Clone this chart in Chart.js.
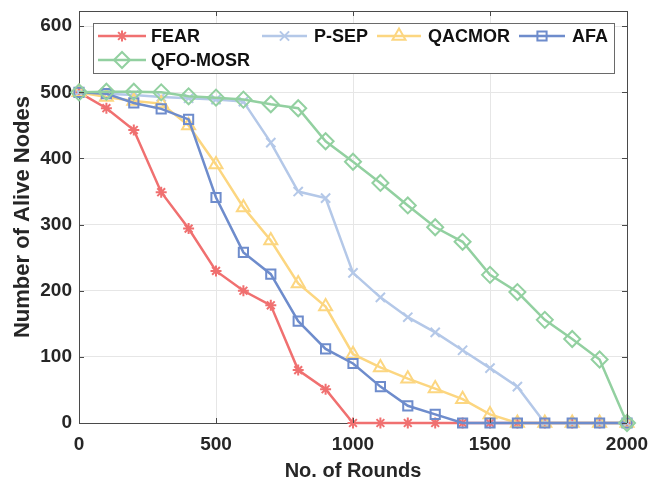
<!DOCTYPE html>
<html>
<head>
<style>
  body { margin: 0; background: #fff; }
</style>
</head>
<body>
<canvas id="myChart" width="651" height="483"></canvas>

<script src="https://cdn.jsdelivr.net/npm/chart.js"></script>
<script>
// x values (rounds) and series
const rounds = [0, 100, 200, 300, 400, 500, 600, 700, 800, 900, 1000, 1100, 1200, 1300, 1400, 1500, 1600, 1700, 1800, 1900, 2000];
const fear   = [500, 476, 443, 349, 294, 230, 200, 178, 80, 51, 0, 0, 0, 0, 0, 0, 0, 0, 0, 0, 0];
const psep   = [500, 498, 496, 493, 491, 489, 486, 424, 350, 340, 227, 190, 160, 137, 110, 83, 55, 0, 0, 0, 0];
const qacmor = [500, 493, 487, 483, 450, 391, 326, 276, 211, 176, 104, 84, 67, 52, 36, 13, 0, 0, 0, 0, 0];
const afa    = [500, 498, 484, 475, 459, 341, 258, 225, 154, 112, 90, 55, 26, 13, 0, 0, 0, 0, 0, 0, 0];
const qfo    = [500, 501, 501, 500, 494, 492, 489, 482, 476, 426, 395, 363, 329, 296, 274, 224, 198, 156, 127, 96, 0];

const seriesNames = ['FEAR', 'P-SEP', 'QACMOR', 'AFA', 'QFO-MOSR'];
const xTicks = [0, 500, 1000, 1500, 2000];
const yTicks = [0, 100, 200, 300, 400, 500, 600];

const colors = ['#F07070', '#B4C8E8', '#FCD680', '#6E8CCC', '#92D0A0'];
const styles = ['star', 'crossRot', 'triangle', 'rect', 'rectRot'];
const radii  = [5.5, 6.5, 7.5, 6.5, 8];
const allData = [fear, psep, qacmor, afa, qfo];

const txtColor = '#262626';
const tickFont = { family: "'Liberation Sans', Arial, sans-serif", size: 19, weight: 'bold' };
const titleFont = { family: "'Liberation Sans', Arial, sans-serif", size: 20, weight: 'bold' };
const yTitleFont = { family: "'Liberation Sans', Arial, sans-serif", size: 22, weight: 'bold' };

function makeDataset(i) {
    return {
        label: seriesNames[i],
        data: rounds.map((r, k) => ({ x: r, y: allData[i][k] })),
        borderColor: colors[i],
        backgroundColor: 'rgba(0,0,0,0)',
        borderWidth: 2.5,
        pointStyle: styles[i],
        pointRadius: radii[i],
        pointBorderWidth: 2,
        pointBorderColor: colors[i],
        pointBackgroundColor: 'rgba(0,0,0,0)',
        tension: 0,
        clip: false,
        order: 4 - i
    };
}

// frame, inward ticks and the legend box
const framePlugin = {
    id: 'frame',
    afterDraw(chart) {
        const c = chart.ctx;
        const a = chart.chartArea;
        const xs = chart.scales.x, ys = chart.scales.y;
        c.save();
        c.strokeStyle = '#4a4a4a';
        c.lineWidth = 1;
        c.beginPath();
        c.moveTo(a.left, a.top + 0.5);
        c.lineTo(a.right + 0.5, a.top + 0.5);
        c.lineTo(a.right + 0.5, a.bottom);
        c.stroke();
        c.beginPath();
        xTicks.forEach(v => {
            const px = Math.round(xs.getPixelForValue(v)) + 0.5;
            c.moveTo(px, a.bottom); c.lineTo(px, a.bottom - 5);
            c.moveTo(px, a.top); c.lineTo(px, a.top + 5);
        });
        yTicks.forEach(v => {
            const py = Math.round(ys.getPixelForValue(v)) + 0.5;
            c.moveTo(a.left, py); c.lineTo(a.left + 5, py);
            c.moveTo(a.right, py); c.lineTo(a.right - 5, py);
        });
        c.stroke();

        // legend
        const box = { x: 93.5, y: 23.5, w: 521, h: 50 };
        c.fillStyle = '#fff';
        c.fillRect(box.x, box.y, box.w, box.h);
        c.strokeStyle = '#6a6a6a';
        c.strokeRect(box.x, box.y, box.w, box.h);

        const entries = [
            { x1: 98, x2: 146, tx: 151, y: 36 },
            { x1: 262, x2: 307, tx: 314, y: 36 },
            { x1: 377, x2: 421, tx: 428, y: 36 },
            { x1: 519, x2: 565, tx: 572, y: 36 },
            { x1: 98, x2: 146, tx: 151, y: 60 }
        ];
        c.font = "bold 18px 'Liberation Sans', Arial, sans-serif";
        c.textBaseline = 'middle';
        entries.forEach((e, i) => {
            c.strokeStyle = colors[i];
            c.lineWidth = 2.5;
            c.beginPath();
            c.moveTo(e.x1, e.y); c.lineTo(e.x2, e.y);
            c.stroke();
            const mid = (e.x1 + e.x2) / 2;
            if (Chart.helpers && Chart.helpers.drawPoint) {
                c.lineWidth = 2;
                c.fillStyle = 'rgba(0,0,0,0)';
                Chart.helpers.drawPoint(c, { pointStyle: styles[i], radius: radii[i], borderWidth: 2, rotation: 0 }, mid, e.y);
            }
            c.fillStyle = '#111';
            c.fillText(seriesNames[i], e.tx, e.y + 1);
        });
        c.restore();
    }
};

const ctx = document.getElementById('myChart').getContext('2d');
const myChart = new Chart(ctx, {
    type: 'line',
    data: {
        datasets: allData.map((d, i) => makeDataset(i))
    },
    options: {
        responsive: false,
        animation: false,
        devicePixelRatio: 1,
        layout: { padding: { left: 0, right: 24, top: 11, bottom: 0 } },
        plugins: {
            legend: { display: false },
            tooltip: { enabled: false }
        },
        scales: {
            x: {
                type: 'linear',
                min: 0,
                max: 2000,
                afterFit: s => { s.height = 60; s.paddingLeft = 0; s.paddingRight = 0; },
                afterBuildTicks: s => { s.ticks = xTicks.map(v => ({ value: v })); },
                ticks: { color: txtColor, font: tickFont, padding: 10, maxRotation: 0, callback: v => String(v) },
                grid: { color: '#e6e6e6', lineWidth: 1, drawTicks: false },
                border: { display: true, color: '#4a4a4a', width: 1 },
                title: { display: true, text: 'No. of Rounds', color: txtColor, font: titleFont, padding: { top: 0, bottom: 0 } }
            },
            y: {
                min: 0,
                max: 623,
                afterFit: s => { s.width = 79; s.paddingTop = 0; s.paddingBottom = 0; },
                afterBuildTicks: s => { s.ticks = yTicks.map(v => ({ value: v })); },
                ticks: { color: txtColor, font: tickFont, padding: 7 },
                grid: { color: '#e6e6e6', lineWidth: 1, drawTicks: false },
                border: { display: true, color: '#4a4a4a', width: 1 },
                title: { display: true, text: 'Number of Alive Nodes', color: txtColor, font: yTitleFont, padding: { top: 10, bottom: 0 } }
            }
        }
    },
    plugins: [framePlugin]
});
</script>
</body>
</html>
